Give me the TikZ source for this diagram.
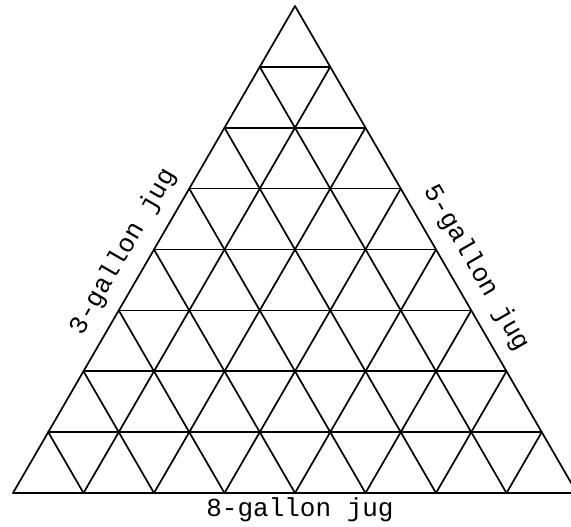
\documentclass[tikz,border=0pt]{standalone}
\usepackage{fontspec}
\newfontfamily\jugfont{Liberation Mono}
\begin{document}
\begin{tikzpicture}[x=1pt,y=-1pt,
  gridline/.style={line width=1.7pt,line join=round,line cap=round,black},
  juglabel/.style={font=\jugfont\fontsize{26}{30}\selectfont,inner sep=0pt}]
\useasboundingbox (0,0) rectangle (571,527);
% corners: L=(13,493), R=(577,493), A=(295,6); step along base 70.5, along side (35.25,-60.875)
\foreach \i in {0,...,7} {
  % horizontal lines
  \draw[gridline] ({13+\i*35.25},{493-\i*60.875}) -- ({577-\i*35.25},{493-\i*60.875});
  % lines parallel to left side
  \draw[gridline] ({13+\i*70.5},493) -- ({295+\i*35.25},{6+\i*60.875});
}
\foreach \i in {1,...,8} {
  % lines parallel to right side
  \draw[gridline] ({13+\i*70.5},493) -- ({13+\i*35.25},{493-\i*60.875});
}
\node[juglabel,anchor=base] (eight) at (300,516) {8-gallon jug};
\node[juglabel,rotate=60] (three) at (123,252) {3-gallon jug};
\node[juglabel,rotate=-60] (five) at (476,268) {5-gallon jug};
\end{tikzpicture}
\end{document}
